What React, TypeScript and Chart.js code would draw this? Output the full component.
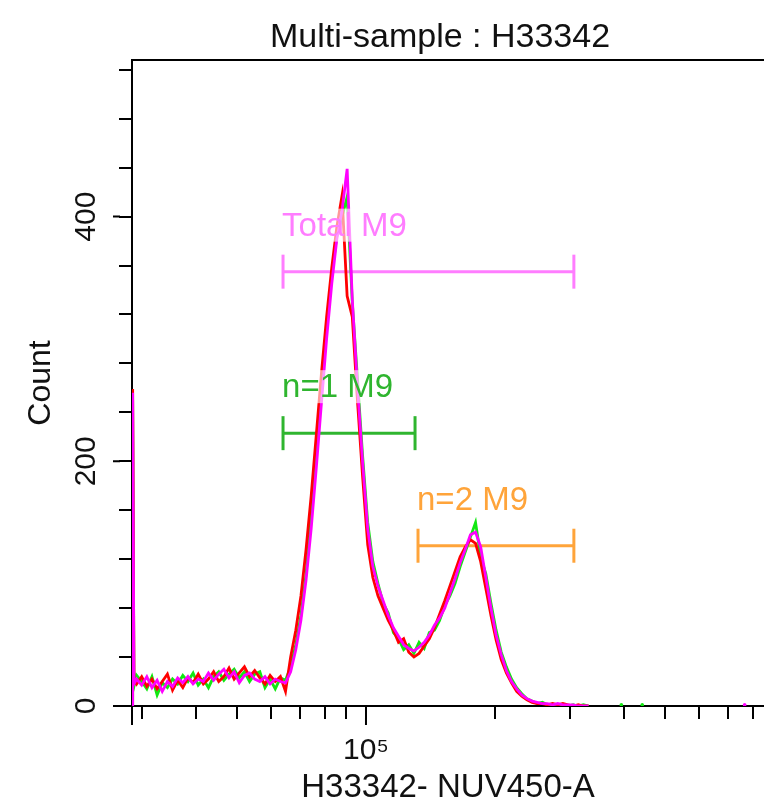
import React, { useEffect, useRef } from 'react';
import { Chart, registerables } from 'chart.js';

Chart.register(...registerables);

const FONT = '"Liberation Sans", Arial, Helvetica, sans-serif';

const chartTitle = 'Multi-sample : H33342';
const xAxisTitle = 'H33342- NUV450-A';
const yAxisTitle = 'Count';

// histogram bin positions (H33342- NUV450-A channel values)
const binX = [
  28500, 28700, 29110, 29920, 30760, 31620, 32510, 33420, 34360, 35320,
  36310, 37330, 38370, 39450, 40550, 41690, 42850, 44060, 45290, 46560,
  47860, 49200, 50580, 52000, 53460, 54950, 56490, 58080, 59700, 61380,
  63100, 64860, 66680, 68550, 70470, 72440, 74470, 76560, 78700, 80910,
  83180, 85510, 87900, 90360, 92900, 95500, 98170, 100930, 103760, 106660,
  109650, 112720, 115880, 119120, 122460, 125890, 129420, 133050, 136770, 140600,
  144540, 148590, 152760, 157040, 161440, 165960, 170610, 175390, 180300, 185350,
  190550, 195880, 201370, 207010, 212810, 218780, 224910, 231210, 237680, 244340,
  251190, 258230, 265460, 272900, 280540, 288400, 296480, 304790, 313330, 322110,
  331130,
];

const countsMagenta = [
  256, 18, 22, 17, 24, 15, 21, 12, 20, 16, 23, 19, 24, 18, 22, 20, 27, 21, 26, 30,
  23, 28, 19, 25, 27, 22, 20, 24, 18, 22, 20, 19, 28, 46, 70, 103, 145, 195, 248, 300,
  345, 382, 405, 439, 332, 262, 200, 145, 114, 98, 86, 74, 64, 57, 50, 47, 45, 48, 52, 58,
  66, 72, 80, 92, 104, 117, 128, 140, 142, 130, 105, 80, 58, 42, 29, 20, 14, 9, 6, 4,
  3, 2, 2, 1, 2, 1, 1, 1, 0, 0, 0,
];

const countsRed = [
  259, 22, 18, 24, 16, 22, 14, 20, 26, 13, 21, 15, 23, 19, 26, 18, 22, 28, 20, 24,
  31, 22, 27, 32, 24, 29, 23, 18, 25, 20, 24, 12, 40, 62, 90, 128, 172, 222, 272, 318,
  358, 392, 417, 335, 318, 250, 188, 132, 105, 90, 80, 70, 62, 52, 55, 44, 40, 43, 49, 55,
  64, 75, 86, 98, 110, 122, 130, 136, 133, 118, 96, 74, 54, 38, 27, 19, 12, 8, 5, 3,
  2, 2, 1, 2, 1, 2, 1, 0, 1, 0, 0,
];

const countsGreen = [
  250, 16, 25, 20, 14, 24, 9, 19, 15, 22, 18, 25, 20, 27, 17, 22, 15, 24, 28, 21,
  26, 30, 23, 28, 20, 26, 28, 15, 22, 14, 23, 21, 32, 50, 74, 108, 155, 205, 258, 308,
  352, 385, 400, 416, 330, 268, 205, 150, 118, 100, 84, 76, 60, 55, 46, 50, 43, 52, 47, 60,
  62, 70, 82, 90, 100, 114, 126, 138, 150, 122, 108, 84, 62, 44, 32, 22, 15, 10, 6, 4,
  2, 3, 1, 1, 1, 1, 0, 1, 0, 1, 0,
];

// isolated events far out on the axis
const strayGreenX = [395000, 442000];
const strayGreenY = [1, 1];
const strayMagentaX = [767000];
const strayMagentaY = [1];

const xTickValues = [
  30000, 40000, 50000, 60000, 70000, 80000, 90000, 100000,
  200000, 300000, 400000, 500000, 600000, 700000, 800000,
];
const xMajorTicks = [100000];
const xTickText: Record<number, string> = { 100000: '10\u2075' };
const yTickValues = [0, 40, 80, 120, 160, 200, 240, 280, 320, 360, 400, 440, 480, 520];
const yLabeledTicks = [0, 200, 400];

const markerNames = ['Total M9', 'n=1 M9', 'n=2 M9'];
const markerStart = [64000, 64000, 132300];
const markerEnd = [306000, 130200, 306000];
const markerLevel = [355, 223, 131];
const markerColors = ['#ff7dff', '#2fb52f', '#ffa43a'];

const X_MIN = 28400;
const X_MAX = 851000;
const Y_MIN = 0;
const Y_MAX = 528;

const toPoints = (xs: number[], ys: number[]) => xs.map((x, i) => ({ x, y: ys[i] }));

const histogram = (counts: number[], color: string, order: number) => ({
  type: 'line' as const,
  data: [{ x: binX[0], y: 0 }, ...toPoints(binX, counts)],
  borderColor: color,
  borderWidth: 2.8,
  pointRadius: 0,
  tension: 0,
  fill: false,
  order,
  xAxisID: 'x',
  yAxisID: 'y',
});

const stray = (xs: number[], ys: number[], color: string, order: number) => ({
  type: 'line' as const,
  data: toPoints(xs, ys),
  showLine: false,
  pointRadius: 1.8,
  pointBackgroundColor: color,
  pointBorderColor: color,
  pointBorderWidth: 0,
  order,
  xAxisID: 'x',
  yAxisID: 'y',
});

const markerSet = (i: number) => ({
  type: 'line' as const,
  data: [
    { x: markerStart[i], y: markerLevel[i] },
    { x: markerEnd[i], y: markerLevel[i] },
  ],
  borderColor: markerColors[i],
  borderWidth: 3,
  pointStyle: 'line' as const,
  pointRadius: 17,
  pointRotation: 90,
  pointBorderColor: markerColors[i],
  pointBorderWidth: 3,
  order: 10,
  xAxisID: 'x',
  yAxisID: 'y',
});

const decorPlugin = {
  id: 'decor',
  afterDatasetsDraw(chart: any) {
    const { ctx, scales } = chart;
    const xs = scales.x;
    const ys = scales.y;
    ctx.save();
    ctx.font = `33px ${FONT}`;
    ctx.textAlign = 'left';
    ctx.textBaseline = 'alphabetic';
    markerNames.forEach((name, i) => {
      const px = xs.getPixelForValue(markerStart[i]) - 1;
      const py = ys.getPixelForValue(markerLevel[i]) - 36;
      const w = ctx.measureText(name).width;
      ctx.fillStyle = 'rgba(255,255,255,0.6)';
      ctx.fillRect(px - 2, py - 27, w + 4, 33);
      ctx.fillStyle = markerColors[i];
      ctx.fillText(name, px, py);
    });
    ctx.restore();
  },
  afterDraw(chart: any) {
    const { ctx, scales, chartArea } = chart;
    const xs = scales.x;
    const ys = scales.y;
    ctx.save();
    ctx.strokeStyle = '#000';
    ctx.lineWidth = 2;
    ctx.beginPath();
    yLabeledTicks.forEach((v) => {
      const py = ys.getPixelForValue(v);
      ctx.moveTo(chartArea.left - 19, py);
      ctx.lineTo(chartArea.left - 12, py);
    });
    xMajorTicks.forEach((v) => {
      const px = xs.getPixelForValue(v);
      ctx.moveTo(px, chartArea.bottom + 12);
      ctx.lineTo(px, chartArea.bottom + 19);
    });
    ctx.moveTo(chartArea.left, chartArea.bottom);
    ctx.lineTo(chartArea.left, chartArea.bottom + 19);
    ctx.stroke();

    ctx.fillStyle = '#111';
    ctx.font = `34px ${FONT}`;
    ctx.textAlign = 'center';
    ctx.textBaseline = 'alphabetic';
    ctx.fillText(chartTitle, 440, 47);
    ctx.restore();
  },
};

export default function App() {
  const canvasRef = useRef<HTMLCanvasElement | null>(null);

  useEffect(() => {
    const canvas = canvasRef.current;
    if (!canvas) return;
    const chart = new Chart(canvas, {
      type: 'line',
      data: {
        datasets: [
          histogram(countsMagenta, '#ff00ff', 0),
          histogram(countsRed, '#ff0000', 1),
          histogram(countsGreen, '#12e812', 2),
          stray(strayMagentaX, strayMagentaY, '#ff00ff', 3),
          stray(strayGreenX, strayGreenY, '#12e812', 4),
          markerSet(0),
          markerSet(1),
          markerSet(2),
        ] as any,
      },
      options: {
        responsive: false,
        animation: false,
        events: [],
        layout: { autoPadding: false, padding: { top: 60, left: 0, right: 0, bottom: 0 } },
        plugins: {
          legend: { display: false },
          tooltip: { enabled: false },
          title: { display: false },
        },
        scales: {
          x: {
            type: 'logarithmic',
            position: 'bottom',
            min: X_MIN,
            max: X_MAX,
            afterBuildTicks: (s: any) => {
              s.ticks = xTickValues.map((v) => ({ value: v }));
            },
            afterFit: (s: any) => {
              s.height = 103;
              s.paddingLeft = 0;
              s.paddingRight = 0;
            },
            ticks: {
              autoSkip: false,
              minRotation: 0,
              maxRotation: 0,
              padding: 14,
              color: '#111',
              font: { family: FONT, size: 30 },
              callback: (v: any) => xTickText[Number(v)] ?? '',
            },
            grid: {
              drawOnChartArea: false,
              drawTicks: true,
              tickLength: 13,
              color: '#000',
              lineWidth: 2,
              tickWidth: 2,
            },
            border: { display: true, color: '#000', width: 2 },
            title: {
              display: true,
              text: xAxisTitle,
              color: '#111',
              font: { family: FONT, size: 33 },
              padding: { top: 0, bottom: 1 },
            },
          },
          xTop: {
            type: 'linear',
            position: 'top',
            min: 0,
            max: 1,
            afterFit: (s: any) => {
              s.height = 0;
              s.paddingLeft = 0;
              s.paddingRight = 0;
            },
            ticks: { display: false },
            grid: { drawOnChartArea: false, drawTicks: false },
            border: { display: true, color: '#000', width: 2 },
          },
          y: {
            type: 'linear',
            position: 'left',
            min: Y_MIN,
            max: Y_MAX,
            afterBuildTicks: (s: any) => {
              s.ticks = yTickValues.map((v) => ({ value: v }));
            },
            afterFit: (s: any) => {
              s.width = 132;
              s.paddingTop = 0;
              s.paddingBottom = 0;
            },
            ticks: {
              autoSkip: false,
              minRotation: 90,
              maxRotation: 90,
              crossAlign: 'center',
              padding: 7,
              color: '#111',
              font: { family: FONT, size: 30 },
              callback: (v: any) => (yLabeledTicks.includes(Number(v)) ? String(v) : ''),
            },
            grid: {
              drawOnChartArea: false,
              drawTicks: true,
              tickLength: 13,
              color: '#000',
              lineWidth: 2,
              tickWidth: 2,
            },
            border: { display: true, color: '#000', width: 2 },
            title: {
              display: true,
              text: yAxisTitle,
              color: '#111',
              font: { family: FONT, size: 32 },
              padding: { top: 22, bottom: 0 },
            },
          },
        },
      } as any,
      plugins: [decorPlugin],
    });
    return () => chart.destroy();
  }, []);

  return (
    <div style={{ position: 'absolute', left: 0, top: 0, width: 764, height: 809, background: '#fff' }}>
      <canvas ref={canvasRef} width={764} height={809} style={{ width: 764, height: 809, display: 'block' }} />
    </div>
  );
}
